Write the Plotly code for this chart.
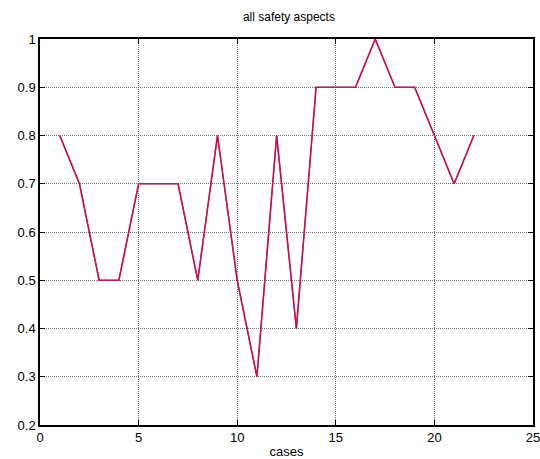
import plotly.graph_objects as go

cases = list(range(1, 23))
values = [0.8, 0.7, 0.5, 0.5, 0.7, 0.7, 0.7, 0.5, 0.8, 0.5, 0.3,
          0.8, 0.4, 0.9, 0.9, 0.9, 1.0, 0.9, 0.9, 0.8, 0.7, 0.8]
x_ticks = [0, 5, 10, 15, 20, 25]
y_ticks = [0.2, 0.3, 0.4, 0.5, 0.6, 0.7, 0.8, 0.9, 1.0]
y_tick_labels = ["0.2", "0.3", "0.4", "0.5", "0.6", "0.7", "0.8", "0.9", "1"]

fig = go.Figure()
fig.add_trace(go.Scatter(x=cases, y=values, mode="lines",
                         line=dict(color="#7040b0", width=1.6), showlegend=False))
fig.add_trace(go.Scatter(x=cases, y=values, mode="lines",
                         line=dict(color="#f00030", width=1.2), showlegend=False))

axis_common = dict(showline=True, linecolor="black", linewidth=1.5, mirror="ticks",
                   ticks="inside", ticklen=5, tickcolor="black", automargin=False,
                   ticklabeloverflow="allow",
                   showgrid=True, gridcolor="#777777", griddash="1px,1px", gridwidth=1,
                   zeroline=False, tickfont=dict(family="Liberation Sans, Arial", size=13, color="black"))

fig.update_layout(
    width=540, height=459,
    margin=dict(l=40, r=7, t=39, b=34),
    plot_bgcolor="white", paper_bgcolor="white",
    title=dict(text="all safety aspects", x=0.535, xanchor="center", y=0.963, yanchor="middle",
               font=dict(family="Liberation Sans, Arial", size=12, color="black")),
    xaxis=dict(range=[0, 25], tickvals=x_ticks,
               title=dict(text="cases", standoff=7,
                          font=dict(family="Liberation Sans, Arial", size=13, color="black")),
               **axis_common),
    yaxis=dict(range=[0.2, 1.0], tickvals=y_ticks, ticktext=y_tick_labels, **axis_common),
)

fig.write_html("out.html", config={"displayModeBar": False},
               post_script="document.body.style.margin='0';document.body.style.overflow='hidden';")
